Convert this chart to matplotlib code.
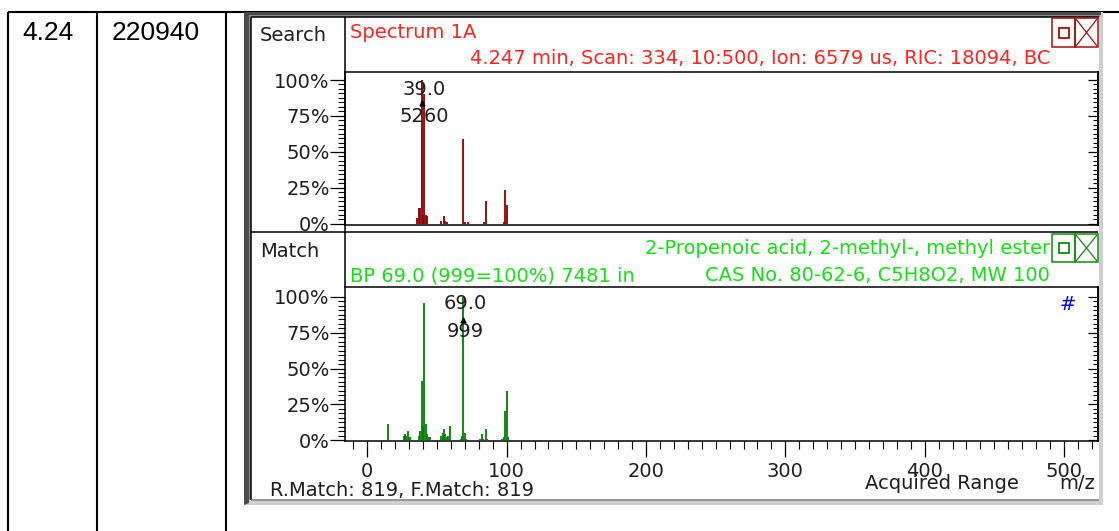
import numpy as np
import matplotlib
matplotlib.use("Agg")
import matplotlib.pyplot as plt
from matplotlib.patches import Rectangle, Polygon

plt.rcParams['font.family'] = ['DejaVu Sans']

W, H = 1119, 531

# table cells
row_time = "4.24"
row_area = "220940"

# search spectrum: m/z and % of base peak
search_mz = [36, 37, 38, 39, 40, 41, 42, 43, 53, 55, 56, 57, 69, 70, 72, 84, 85, 98, 99, 100]
search_int = [4, 11, 11, 100, 6, 90, 6, 5, 2, 5, 2, 1, 59, 1, 1, 1, 15.5, 1, 23, 13]

# library match spectrum
match_mz = [15, 26, 27, 28, 29, 30, 31, 37, 38, 39, 40, 41, 42, 43, 44, 45,
            53, 54, 55, 56, 57, 58, 59, 67, 68, 69, 70, 71, 81, 82, 83, 85, 86, 97, 98, 99, 100, 101]
match_int = [11.5, 3, 4, 3, 6.5, 2, 2, 3, 6, 41, 10, 96, 11, 4, 2, 2,
             3, 5, 7.5, 4, 2, 3, 10, 1, 3, 100, 5, 1, 1, 4, 1, 7.5, 1, 1, 2, 20, 34, 2]

yticks = [0, 25, 50, 75, 100]
ytick_labels = ['0%', '25%', '50%', '75%', '100%']
xticks = [0, 100, 200, 300, 400, 500]

TXT = '#1e1e1e'
RED = '#ff2424'
GREEN = '#14e014'
FS = 14

fig = plt.figure(figsize=(W / 100, H / 100), dpi=100)
bg = fig.add_axes([0, 0, 1, 1])
bg.set_xlim(0, W)
bg.set_ylim(H, 0)
bg.axis('off')


def px_axes(x0, y0, x1, y1):
    return fig.add_axes([x0 / W, 1 - y1 / H, (x1 - x0) / W, (y1 - y0) / H])


def line(xs, ys, lw=1.1, c='black', z=3):
    bg.plot(xs, ys, color=c, lw=lw, solid_capstyle='butt', zorder=z)


# table grid
line([8, W], [12, 12], lw=1.5, z=1)
for x in [8, 96.5, 226]:
    line([x, x], [12, H], lw=1.5, z=1)
bg.text(22, 40, row_time, fontsize=19, family='Liberation Sans', color='black')
bg.text(112, 40, row_area, fontsize=19, family='Liberation Sans', color='black')

# window frame
bg.add_patch(Rectangle((244, 12), 1103 - 244, 505 - 12, fc='#cfcfcf', ec='none', zorder=2))
bg.add_patch(Polygon([(244, 12), (1101, 12), (1101, 15), (249, 15), (249, 503), (244, 505)],
                     fc='#4a4a4a', ec='none', zorder=2))
bg.add_patch(Rectangle((249, 15), 1100 - 249, 2, fc='#8c8c8c', ec='none', zorder=2))
bg.add_patch(Rectangle((249, 15), 2, 500 - 15, fc='#8c8c8c', ec='none', zorder=2))
bg.add_patch(Rectangle((251, 17), 1099 - 251, 500 - 17, fc='white', ec='none', zorder=2))
line([251, 251], [17, 500])
line([251, 1099], [17, 17])
line([251, 1099], [500, 500], c='#808080')

# panel dividers
line([345, 345], [17, 232])
line([251, 1098], [232, 232])
line([345, 345], [232, 287])

# header texts
bg.text(260, 41, "Search", fontsize=FS, color=TXT, zorder=4)
bg.text(350, 38, "Spectrum 1A", fontsize=FS, color=RED, zorder=4)
bg.text(1050, 64, "4.247 min, Scan: 334, 10:500, Ion: 6579 us, RIC: 18094, BC",
        fontsize=FS, color=RED, ha='right', zorder=4)
bg.text(260, 257, "Match", fontsize=FS, color=TXT, zorder=4)
bg.text(1050, 254, "2-Propenoic acid, 2-methyl-, methyl ester", fontsize=FS, color=GREEN,
        ha='right', zorder=4)
bg.text(350, 281, "BP 69.0 (999=100%) 7481 in", fontsize=FS, color=GREEN, zorder=4)
bg.text(1050, 281, "CAS No. 80-62-6, C5H8O2, MW 100", fontsize=FS, color=GREEN,
        ha='right', zorder=4)
bg.text(270, 496, "R.Match: 819, F.Match: 819", fontsize=FS, color=TXT, zorder=4)
bg.text(865, 489, "Acquired Range", fontsize=FS, color=TXT, zorder=4)
bg.text(1095, 489, "m/z", fontsize=FS, color=TXT, ha='right', zorder=4)


def buttons(y0, y1, c):
    bg.add_patch(Rectangle((1052, y0), 23, y1 - y0, fc='none', ec=c, lw=1.1, zorder=4))
    bg.add_patch(Rectangle((1075, y0), 23, y1 - y0, fc='none', ec=c, lw=1.1, zorder=4))
    ym = (y0 + y1) / 2
    bg.add_patch(Rectangle((1058.5, ym - 5), 10, 10, fc='none', ec=c, lw=1.3, zorder=4))
    line([1076, 1097], [y0 + 1, y1 - 1], c=c, lw=0.9, z=4)
    line([1076, 1097], [y1 - 1, y0 + 1], c=c, lw=0.9, z=4)


buttons(18, 47, '#a01010')
buttons(234, 262, '#158a15')

# m/z scale: 0 at x=367.3 px, 1.3934 px per unit
X0, PX = 367.3, 1.3934
xlim = ((345 - X0) / PX, (1098 - X0) / PX)


def spectrum(ax, mz, inten, color, ylim):
    ax.vlines(mz, 0, inten, color=color, lw=1.3)
    ax.set_xlim(xlim)
    ax.set_ylim(ylim)
    ax.set_yticks(yticks, ytick_labels)
    ax.set_yticks(np.arange(0, 101, 3.125), minor=True)
    ax.tick_params(axis='y', which='major', direction='out', length=10.5, width=0.9,
                   pad=0.5, labelsize=FS, labelcolor=TXT)
    ax.tick_params(axis='y', which='minor', direction='out', length=5, width=0.8)
    sec = ax.secondary_yaxis('right')
    sec.set_yticks(yticks)
    sec.set_yticks(np.arange(0, 101, 3.125), minor=True)
    sec.tick_params(which='major', direction='in', length=7, width=0.9, labelright=False)
    sec.tick_params(which='minor', direction='in', length=3.5, width=0.8)
    sec.spines['right'].set_linewidth(1.1)
    for s in ax.spines.values():
        s.set_linewidth(1.1)
    ax.patch.set_alpha(0)


# search panel: 0% at y=223.5 px, 100% at y=80 px
ax1 = px_axes(345, 72, 1098, 225)
spectrum(ax1, search_mz, search_int, '#8b0000', ((223.5 - 225) / 1.435, (223.5 - 72) / 1.435))
ax1.tick_params(axis='x', which='both', bottom=False, labelbottom=False)
ax1.plot(39, 84, marker='^', ms=3.5, color='black')
ax1.text(40.7, 89.5, "39.0", ha='center', va='baseline', fontsize=FS, color=TXT)
ax1.text(40.7, 70.9, "5260", ha='center', va='baseline', fontsize=FS, color=TXT)

# match panel: 0% at y=440 px, 100% at y=297 px
ax2 = px_axes(345, 287, 1098, 441)
spectrum(ax2, match_mz, match_int, '#008000', ((440 - 441) / 1.43, (440 - 287) / 1.43))
ax2.set_xticks(xticks, [str(t) for t in xticks])
ax2.set_xticks(np.arange(-10, 521, 10), minor=True)
ax2.tick_params(axis='x', which='major', direction='out', length=11.5, width=0.9,
                pad=3.5, labelsize=FS, labelcolor=TXT)
ax2.tick_params(axis='x', which='minor', direction='out', length=5.5, width=0.8)
ax2.plot(69, 84, marker='^', ms=3.5, color='black')
ax2.text(70.3, 91.6, "69.0", ha='center', va='baseline', fontsize=FS, color=TXT)
ax2.text(70.3, 72.2, "999", ha='center', va='baseline', fontsize=FS, color=TXT)
ax2.text(503, 91, "#", ha='center', va='baseline', fontsize=FS, color='#0000ff')

fig.savefig('out.png', dpi=100)
